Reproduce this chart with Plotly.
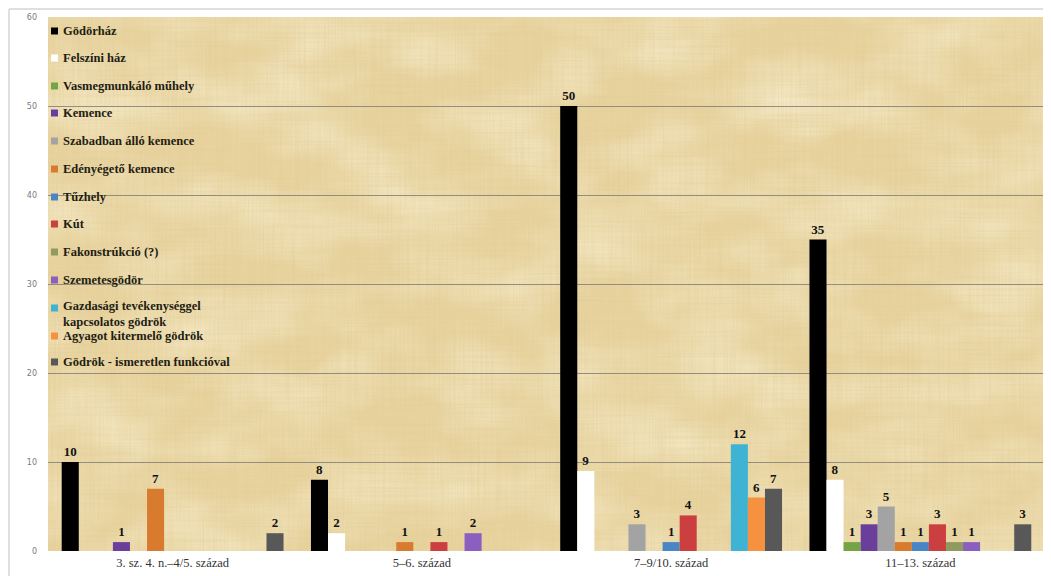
import base64
import plotly.graph_objects as go

categories = ["3. sz. 4. n.–4/5. század", "5–6. század", "7–9/10. század", "11–13. század"]

series_names = [
    "Gödörház",
    "Felszíni ház",
    "Vasmegmunkáló műhely",
    "Kemence",
    "Szabadban álló kemence",
    "Edényégető kemence",
    "Tűzhely",
    "Kút",
    "Fakonstrúkció (?)",
    "Szemetesgödör",
    "Gazdasági tevékenységgel<br>kapcsolatos gödrök",
    "Agyagot kitermelő gödrök",
    "Gödrök - ismeretlen funkcióval",
]

godorhaz = [10, 8, 50, 35]
felszini_haz = [0, 2, 9, 8]
vasmegmunkalo = [0, 0, 0, 1]
kemence = [1, 0, 0, 3]
szabadban_allo = [0, 0, 3, 5]
edenyegeto = [7, 1, 0, 1]
tuzhely = [0, 0, 1, 1]
kut = [0, 1, 4, 3]
fakonstrukcio = [0, 0, 0, 1]
szemetesgodor = [0, 2, 0, 1]
gazdasagi = [0, 0, 12, 0]
agyagot = [0, 0, 6, 0]
ismeretlen = [2, 0, 7, 3]

series_values = [godorhaz, felszini_haz, vasmegmunkalo, kemence, szabadban_allo,
                 edenyegeto, tuzhely, kut, fakonstrukcio, szemetesgodor,
                 gazdasagi, agyagot, ismeretlen]

colors = ["#000000", "#ffffff", "#74a545", "#6a3f9c", "#a3a3a3", "#d97b2e",
          "#4a86c6", "#cc3f41", "#8f9a5e", "#8a5fc0", "#3fb3d3", "#f5913f", "#585858"]

y_ticks = [0, 10, 20, 30, 40, 50, 60]

SERIF = "Liberation Serif"
# the page body has an 8px default margin, so the figure is sized to fit the window
OFF = 8
W, H = 1051 - OFF, 576 - OFF
ML, MR, MT, MB = 48 - OFF, 6, 17 - OFF, 25
PW, PH = W - ML - MR, H - MT - MB

def px_x(x):  # page pixel -> paper fraction
    return (x - OFF - ML) / PW

def px_y(y):
    return (H - MB - (y - OFF)) / PH

# papyrus-like background texture (decorative only)
texture_svg = f"""<svg xmlns='http://www.w3.org/2000/svg' width='{PW}' height='{PH}'>
<filter id='v' x='0' y='0' width='100%' height='100%'>
<feTurbulence type='fractalNoise' baseFrequency='0.6 0.01' numOctaves='2' seed='4'/>
<feColorMatrix type='matrix' values='0 0 0 0 0.72  0 0 0 0 0.58  0 0 0 0 0.30  0.7 0 0 0 -0.28'/>
</filter>
<filter id='h' x='0' y='0' width='100%' height='100%'>
<feTurbulence type='fractalNoise' baseFrequency='0.01 0.55' numOctaves='2' seed='9'/>
<feColorMatrix type='matrix' values='0 0 0 0 0.72  0 0 0 0 0.58  0 0 0 0 0.30  0.6 0 0 0 -0.25'/>
</filter>
<filter id='b' x='0' y='0' width='100%' height='100%'>
<feTurbulence type='fractalNoise' baseFrequency='0.01 0.018' numOctaves='3' seed='2'/>
<feColorMatrix type='matrix' values='0 0 0 0 0.98  0 0 0 0 0.93  0 0 0 0 0.74  1.0 0 0 0 -0.35'/>
</filter>
<rect width='100%' height='100%' fill='#e8d39e'/>
<rect width='100%' height='100%' filter='url(#b)'/>
<rect width='100%' height='100%' filter='url(#v)'/>
<rect width='100%' height='100%' filter='url(#h)'/>
</svg>"""
texture_src = "data:image/svg+xml;base64," + base64.b64encode(texture_svg.encode()).decode()

fig = go.Figure()
for i, (name, vals, col) in enumerate(zip(series_names, series_values, colors)):
    fig.add_trace(go.Bar(
        x=categories, y=vals, name=name,
        marker=dict(color=col, line=dict(width=0)),
        text=[str(v) if v else "" for v in vals],
        textposition="outside",
        textfont=dict(family=SERIF, size=13, color="#111111", weight="bold"),
        cliponaxis=False,
        showlegend=False,
    ))

# custom legend (small squares + bold serif labels) drawn inside the plot area
legend_y_px = [31, 58, 86, 113, 141, 169, 197, 224, 252, 280, 314, 336, 362]
shapes = []
annotations = []
for name, col, yp in zip(series_names, colors, legend_y_px):
    sq_y = yp - 6 if "<br>" in name else yp
    shapes.append(dict(type="rect", xref="paper", yref="paper",
                       x0=px_x(51), x1=px_x(58), y0=px_y(sq_y + 3.5), y1=px_y(sq_y - 3.5),
                       fillcolor=col, line=dict(width=0), layer="above"))
    annotations.append(dict(xref="paper", yref="paper", x=px_x(61), y=px_y(yp),
                            xanchor="left", yanchor="middle", align="left",
                            text=name, showarrow=False,
                            font=dict(family=SERIF, size=12.5, color="#221d12", weight="bold")))

shapes.append(dict(type="line", xref="paper", yref="paper",
                   x0=px_x(9), x1=px_x(9), y0=px_y(600), y1=px_y(9),
                   line=dict(color="#d4d4d4", width=1.5), layer="below"))
shapes.append(dict(type="line", xref="paper", yref="paper",
                   x0=px_x(9), x1=px_x(1060), y0=px_y(9), y1=px_y(9),
                   line=dict(color="#d4d4d4", width=1.5), layer="below"))

fig.update_layout(
    width=W, height=H,
    margin=dict(l=ML, r=MR, t=MT, b=MB, autoexpand=False),
    paper_bgcolor="#ffffff",
    plot_bgcolor="#e8d39e",
    barmode="group",
    bargap=0.11,
    bargroupgap=0,
    showlegend=False,
    xaxis=dict(
        tickfont=dict(family=SERIF, size=12.5, color="#333333"),
        showgrid=False, zeroline=False, showline=False, ticks="",
        automargin=False, ticklabelstandoff=2,
    ),
    yaxis=dict(
        range=[0, 60], tickvals=y_ticks,
        tickfont=dict(family="DejaVu Sans", size=8, color="#7a7a7a"),
        gridcolor="#948d7e", gridwidth=1,
        zeroline=False, showline=False, ticks="", ticklabelstandoff=10,
        automargin=False,
    ),
    images=[dict(source=texture_src, xref="paper", yref="paper", x=0, y=1,
                 sizex=1, sizey=1, sizing="stretch", xanchor="left", yanchor="top",
                 layer="below", opacity=1)],
    shapes=shapes,
    annotations=annotations,
)

fig.write_html("out.html")
